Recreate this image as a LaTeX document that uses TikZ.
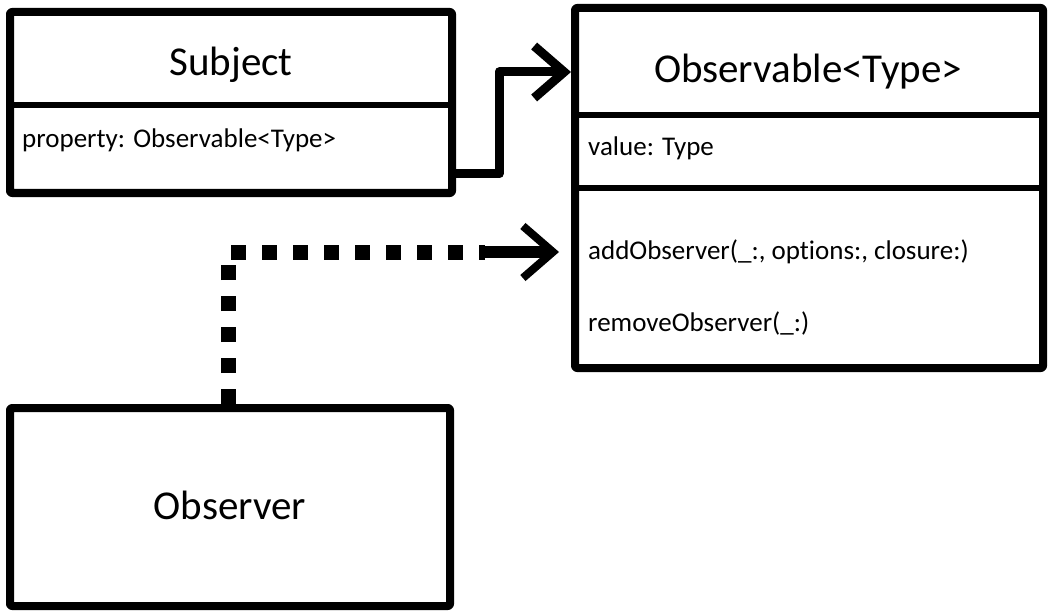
\documentclass[tikz,border=0pt]{standalone}
\usepackage{fontspec}
\setmainfont{Carlito}[Ligatures=NoCommon]
\usetikzlibrary{arrows.meta,calc}
\begin{document}
\begin{tikzpicture}[x=1pt,y=-1pt,
  box/.style={draw, line width=8pt, line join=round, inner sep=0pt, rounded corners=2pt},
  divider/.style={line width=6pt, line cap=butt},
  title/.style={font=\fontsize{41}{45}\selectfont, inner sep=0pt},
  member/.style={font=\fontsize{27}{30}\selectfont, inner sep=0pt, anchor=west},
  conn/.style={line width=9pt, line join=round, line cap=round, -{Straight Barb[length=30pt,width=52pt,line width=9pt]}},
  dots/.style={line width=15pt, line cap=butt, dash pattern=on 15pt off 16pt},
  tipline/.style={line width=12pt, line cap=round, -{Straight Barb[length=30pt,width=52pt,line width=8pt]}}]
\useasboundingbox (0,0) rectangle (1050,615);
% Subject
\node[box, minimum width=442pt, minimum height=181pt] (subj) at (231,102.5) {};
\draw[divider] (subj.west |- 0,105) -- (subj.east |- 0,105);
\node[title] (subjt) at (231,65) {Subject};
\node[member] (prop) at (22,140) {property: Observable<Type>};
% Observable
\node[box, minimum width=468pt, minimum height=360pt] (obs) at (809,188) {};
\draw[divider] (obs.west |- 0,115) -- (obs.east |- 0,115);
\draw[divider] (obs.west |- 0,188) -- (obs.east |- 0,188);
\node[title] (obst) at (808,72) {Observable<Type>};
\node[member] (val) at (588,148) {value: Type};
\node[member] (add) at (588,252) {addObserver(\_:, options:, closure:)};
\node[member] (rem) at (588,323) {removeObserver(\_:)};
% Observer
\node[box, minimum width=440pt, minimum height=198pt] (obsr) at (230,507) {};
\node[title] (obsrt) at (230,505) {Observer};
% connectors
\draw[conn] ([yshift=23pt]subj.south east) -- ++(43,0) |- (obs.west |- obst);
\coordinate (dotend) at (485,252);
\draw[dots] ([xshift=-2pt]obsr.north) -- ([xshift=-2pt]obsr.north |- add) -- (dotend);
\draw[tipline] (dotend) -- ([xshift=-12pt]obs.west |- add);
\end{tikzpicture}
\end{document}
